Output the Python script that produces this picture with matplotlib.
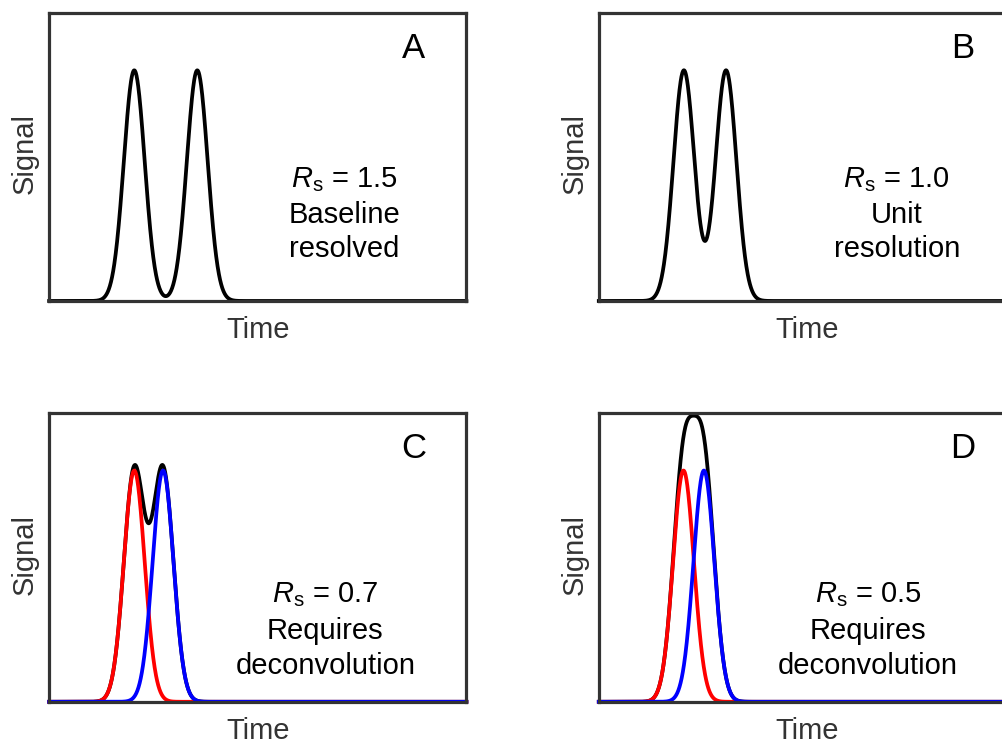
import matplotlib.pyplot as plt
import numpy as np

plt.rcParams['font.family'] = 'Liberation Sans'
plt.rcParams['mathtext.fontset'] = 'custom'
plt.rcParams['mathtext.rm'] = 'Liberation Sans'
plt.rcParams['mathtext.it'] = 'Liberation Sans:italic'

# peak parameters (time axis scaled 0..1)
panels = ['A', 'B', 'C', 'D']
rs_values = ['1.5', '1.0', '0.7', '0.5']
notes = [['Baseline', 'resolved'], ['Unit', 'resolution'],
         ['Requires', 'deconvolution'], ['Requires', 'deconvolution']]
peak1 = [0.204, 0.204, 0.204, 0.203]
peak2 = [0.355, 0.305, 0.273, 0.252]
sigma = 0.025
show_parts = [False, False, True, True]

note_x = [0.707, 0.714, 0.662, 0.645]
note_y = [[0.396, 0.271, 0.153], [0.396, 0.271, 0.153],
          [0.343, 0.218, 0.097], [0.343, 0.218, 0.097]]

axes_pos = [[0.049, 0.596, 0.416, 0.387],
            [0.597, 0.596, 0.416, 0.387],
            [0.049, 0.058, 0.416, 0.388],
            [0.597, 0.058, 0.416, 0.388]]

fig = plt.figure(figsize=(10.03, 7.45), dpi=100)
t = np.linspace(0, 1, 1500)

for i in range(4):
    ax = fig.add_axes(axes_pos[i])
    g1 = np.exp(-0.5 * ((t - peak1[i]) / sigma) ** 2)
    g2 = np.exp(-0.5 * ((t - peak2[i]) / sigma) ** 2)
    ax.plot(t, g1 + g2, color='black', lw=2.7, clip_on=False)
    if show_parts[i]:
        ax.plot(t, g1, color='#ff0000', lw=2.7, clip_on=False)
        ax.plot(t, g2, color='#0000ff', lw=2.7, clip_on=False)

    ax.set_xlim(0, 1)
    ax.set_ylim(0, 1.25)
    ax.set_xticks([])
    ax.set_yticks([])
    for s in ax.spines.values():
        s.set_linewidth(2.3)
        s.set_color('#333333')

    ax.text(0.873, 0.844, panels[i], transform=ax.transAxes, ha='center',
            va='baseline', fontsize=25)
    ax.text(note_x[i], note_y[i][0], r'$R_\mathrm{s}$ = ' + rs_values[i],
            transform=ax.transAxes, ha='center', va='baseline', fontsize=21)
    ax.text(note_x[i], note_y[i][1], notes[i][0], transform=ax.transAxes,
            ha='center', va='baseline', fontsize=21)
    ax.text(note_x[i], note_y[i][2], notes[i][1], transform=ax.transAxes,
            ha='center', va='baseline', fontsize=21)

    ax.text(0.5, -0.10, 'Time', transform=ax.transAxes, ha='center',
            va='center', fontsize=21, color='#333333')
    ax.text(-0.058, 0.51, 'Signal', transform=ax.transAxes, ha='center',
            va='center', rotation=90, fontsize=21, color='#333333')

fig.savefig('out.png', dpi=100)
